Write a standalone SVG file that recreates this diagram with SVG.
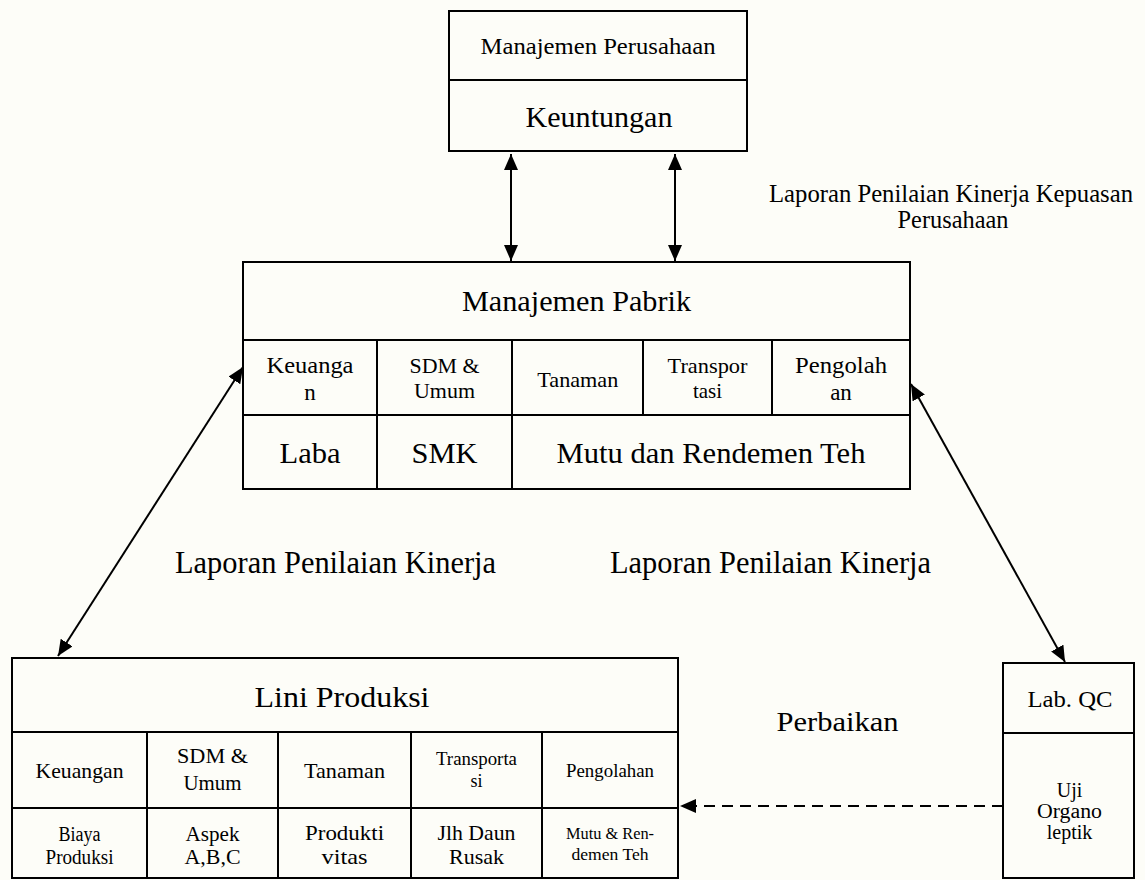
<svg xmlns="http://www.w3.org/2000/svg" width="1145" height="880" viewBox="0 0 1145 880">
<style>
.b{fill:none;stroke:#000;stroke-width:2}
.l{stroke:#000;stroke-width:2;fill:none}
.t{font-family:"Liberation Serif","Times New Roman",serif;fill:#000;text-anchor:middle}
</style>
<defs>
<marker id="ah" markerUnits="userSpaceOnUse" markerWidth="16" markerHeight="14" refX="16" refY="7" orient="auto-start-reverse" viewBox="0 0 16 14">
<path d="M0,0 L16,7 L0,14 z" fill="#000"/>
</marker>
</defs>
<rect x="0" y="0" width="1145" height="880" fill="#fdfdf8"/>

<g id="manajemen-perusahaan">
<rect class="b" x="449" y="11" width="298" height="140"/>
<line class="l" x1="449" y1="80" x2="747" y2="80"/>
<text class="t" x="598" y="54" font-size="23" textLength="235" lengthAdjust="spacingAndGlyphs">Manajemen Perusahaan</text>
<text class="t" x="599" y="127" font-size="29" textLength="147" lengthAdjust="spacingAndGlyphs">Keuntungan</text>
</g>

<g id="manajemen-pabrik">
<rect class="b" x="243" y="262" width="667" height="227"/>
<line class="l" x1="243" y1="340" x2="910" y2="340"/>
<line class="l" x1="243" y1="415" x2="910" y2="415"/>
<line class="l" x1="377" y1="340" x2="377" y2="489"/>
<line class="l" x1="512" y1="340" x2="512" y2="489"/>
<line class="l" x1="643" y1="340" x2="643" y2="415"/>
<line class="l" x1="772" y1="340" x2="772" y2="415"/>
<text class="t" x="576.5" y="311" font-size="29" textLength="229" lengthAdjust="spacingAndGlyphs">Manajemen Pabrik</text>
<text class="t" x="310" y="372.5" font-size="23" textLength="87" lengthAdjust="spacingAndGlyphs">Keuanga</text>
<text class="t" x="310" y="400" font-size="23">n</text>
<text class="t" x="444.5" y="373" font-size="21" textLength="70" lengthAdjust="spacingAndGlyphs">SDM &amp;</text>
<text class="t" x="444.5" y="398" font-size="21" textLength="61" lengthAdjust="spacingAndGlyphs">Umum</text>
<text class="t" x="577.8" y="386.5" font-size="21" textLength="81" lengthAdjust="spacingAndGlyphs">Tanaman</text>
<text class="t" x="707.5" y="373" font-size="21" textLength="80" lengthAdjust="spacingAndGlyphs">Transpor</text>
<text class="t" x="707.5" y="398" font-size="21">tasi</text>
<text class="t" x="841" y="372.5" font-size="23" textLength="92" lengthAdjust="spacingAndGlyphs">Pengolah</text>
<text class="t" x="841" y="400" font-size="23">an</text>
<text class="t" x="310" y="463" font-size="29" textLength="61" lengthAdjust="spacingAndGlyphs">Laba</text>
<text class="t" x="444.5" y="463" font-size="29" textLength="66" lengthAdjust="spacingAndGlyphs">SMK</text>
<text class="t" x="711" y="463" font-size="29" textLength="309" lengthAdjust="spacingAndGlyphs">Mutu dan Rendemen Teh</text>
</g>

<g id="lini-produksi">
<rect class="b" x="12" y="658" width="666" height="220"/>
<line class="l" x1="12" y1="732" x2="678" y2="732"/>
<line class="l" x1="12" y1="808" x2="678" y2="808"/>
<line class="l" x1="147" y1="732" x2="147" y2="878"/>
<line class="l" x1="278" y1="732" x2="278" y2="878"/>
<line class="l" x1="411" y1="732" x2="411" y2="878"/>
<line class="l" x1="542" y1="732" x2="542" y2="878"/>
<text class="t" x="342" y="706.5" font-size="30" textLength="175" lengthAdjust="spacingAndGlyphs">Lini Produksi</text>
<text class="t" x="79.5" y="778" font-size="22" textLength="88" lengthAdjust="spacingAndGlyphs">Keuangan</text>
<text class="t" x="212.5" y="763" font-size="22" textLength="71" lengthAdjust="spacingAndGlyphs">SDM &amp;</text>
<text class="t" x="212.5" y="790" font-size="22" textLength="58" lengthAdjust="spacingAndGlyphs">Umum</text>
<text class="t" x="344.5" y="778" font-size="22" textLength="81" lengthAdjust="spacingAndGlyphs">Tanaman</text>
<text class="t" x="476.5" y="765" font-size="18" textLength="81" lengthAdjust="spacingAndGlyphs">Transporta</text>
<text class="t" x="476.5" y="787" font-size="18">si</text>
<text class="t" x="610" y="776.5" font-size="19" textLength="88" lengthAdjust="spacingAndGlyphs">Pengolahan</text>
<text class="t" x="79.5" y="841" font-size="20" textLength="42" lengthAdjust="spacingAndGlyphs">Biaya</text>
<text class="t" x="79.5" y="864" font-size="20" textLength="68" lengthAdjust="spacingAndGlyphs">Produksi</text>
<text class="t" x="212.5" y="841" font-size="20" textLength="54" lengthAdjust="spacingAndGlyphs">Aspek</text>
<text class="t" x="212.5" y="864" font-size="20" textLength="56" lengthAdjust="spacingAndGlyphs">A,B,C</text>
<text class="t" x="344.5" y="840" font-size="21" textLength="79" lengthAdjust="spacingAndGlyphs">Produkti</text>
<text class="t" x="344.5" y="864" font-size="21" textLength="46" lengthAdjust="spacingAndGlyphs">vitas</text>
<text class="t" x="476.5" y="839.5" font-size="22" textLength="78" lengthAdjust="spacingAndGlyphs">Jlh Daun</text>
<text class="t" x="476.5" y="864" font-size="22">Rusak</text>
<text class="t" x="610" y="839" font-size="16" textLength="88" lengthAdjust="spacingAndGlyphs">Mutu &amp; Ren-</text>
<text class="t" x="610" y="859.5" font-size="16" textLength="77" lengthAdjust="spacingAndGlyphs">demen Teh</text>
</g>

<g id="lab-qc">
<rect class="b" x="1003" y="663" width="131" height="215"/>
<line class="l" x1="1003" y1="733" x2="1134" y2="733"/>
<text class="t" x="1070" y="707" font-size="23" textLength="85" lengthAdjust="spacingAndGlyphs">Lab. QC</text>
<text class="t" x="1069.5" y="797" font-size="20">Uji</text>
<text class="t" x="1069.5" y="818" font-size="20" textLength="65" lengthAdjust="spacingAndGlyphs">Organo</text>
<text class="t" x="1069.5" y="839" font-size="20">leptik</text>
</g>

<g id="labels">
<text class="t" x="951" y="201.5" font-size="25" textLength="364" lengthAdjust="spacingAndGlyphs">Laporan Penilaian Kinerja Kepuasan</text>
<text class="t" x="953" y="228" font-size="25" textLength="111" lengthAdjust="spacingAndGlyphs">Perusahaan</text>
<text class="t" x="335.5" y="573" font-size="31" textLength="321" lengthAdjust="spacingAndGlyphs">Laporan Penilaian Kinerja</text>
<text class="t" x="770.5" y="573" font-size="31" textLength="321" lengthAdjust="spacingAndGlyphs">Laporan Penilaian Kinerja</text>
<text class="t" x="837.5" y="730.5" font-size="27" textLength="122" lengthAdjust="spacingAndGlyphs">Perbaikan</text>
</g>

<g id="connectors">
<line class="l" x1="511" y1="154" x2="511" y2="261" marker-start="url(#ah)" marker-end="url(#ah)"/>
<line class="l" x1="675" y1="154" x2="675" y2="261" marker-start="url(#ah)" marker-end="url(#ah)"/>
<line class="l" x1="243" y1="367" x2="58" y2="656" marker-start="url(#ah)" marker-end="url(#ah)"/>
<line class="l" x1="911" y1="384" x2="1065" y2="662" marker-start="url(#ah)" marker-end="url(#ah)"/>
<line class="l" x1="1003" y1="806" x2="680" y2="806" stroke-dasharray="11 7" marker-end="url(#ah)"/>
</g>
</svg>
